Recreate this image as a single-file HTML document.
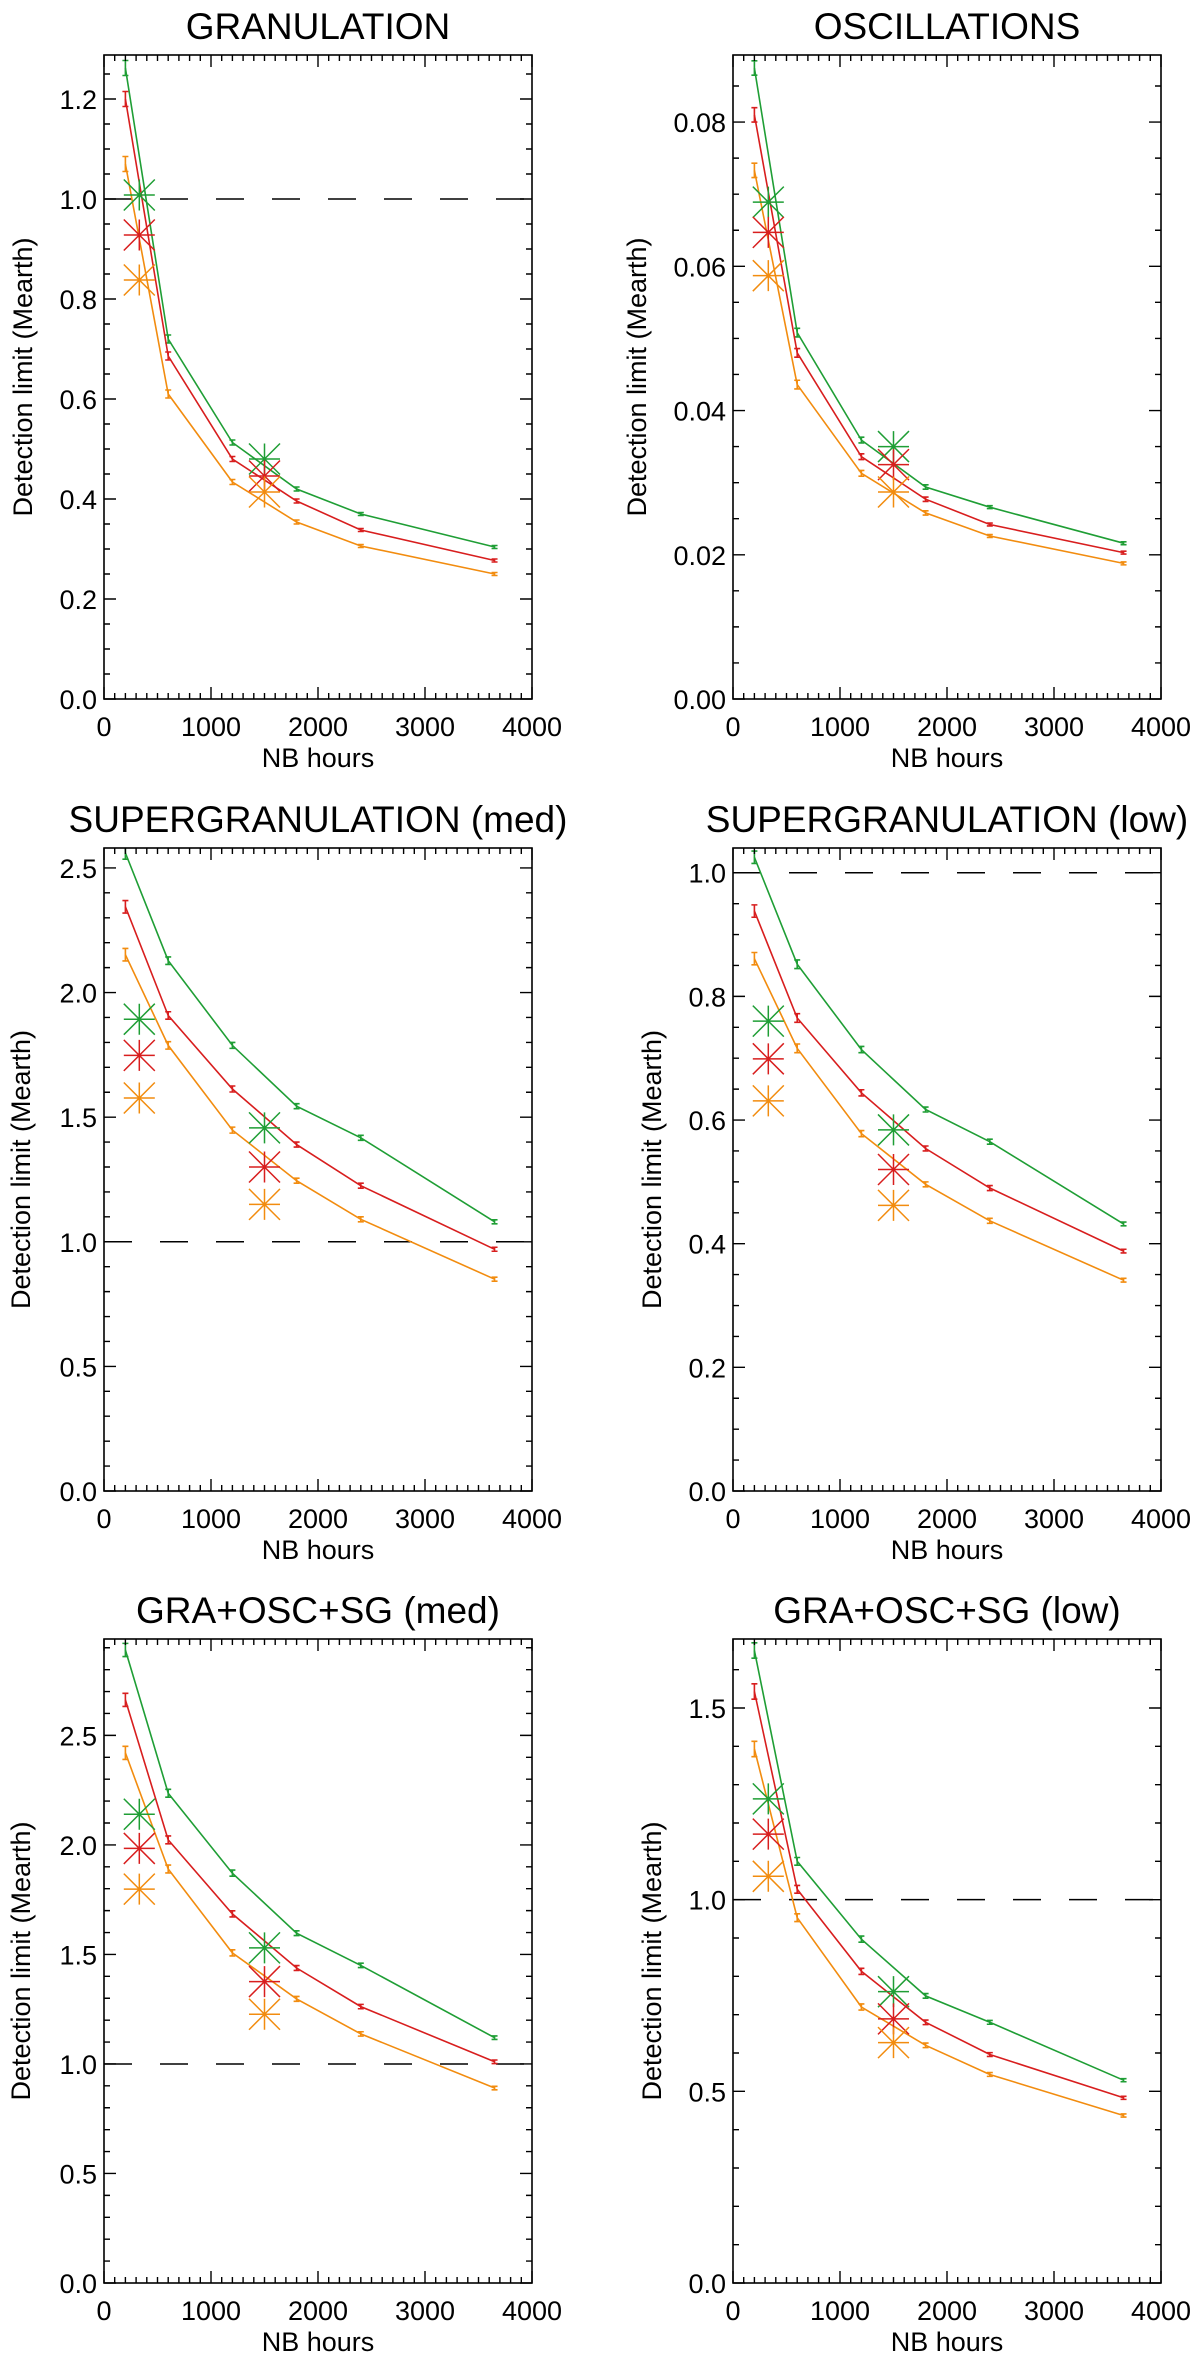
<!DOCTYPE html>
<html><head><meta charset="utf-8"><style>
html,body{margin:0;padding:0;background:#fff;}
svg{display:block;font-family:"Liberation Sans",Arial,sans-serif;}
</style></head><body>
<svg id="fig" width="1200" height="2365" viewBox="0 0 1200 2365" xmlns="http://www.w3.org/2000/svg"></svg>
<script>
// shared data
const hours = [200, 600, 1200, 1800, 2400, 3650];
const starHours = [330, 1500];
const xTicks = [0, 1000, 2000, 3000, 4000];
const xTickLabels = ["0", "1000", "2000", "3000", "4000"];

// GRANULATION
const granGreen = [1.262, 0.72, 0.513, 0.42, 0.37, 0.304];
const granRed = [1.20, 0.686, 0.48, 0.396, 0.338, 0.277];
const granOrange = [1.07, 0.61, 0.434, 0.354, 0.306, 0.25];
const granStarsGreen = [1.008, 0.48];
const granStarsRed = [0.928, 0.446];
const granStarsOrange = [0.838, 0.414];
const granErr = [0.015, 0.008, 0.005, 0.004, 0.003, 0.003];
const granYTicks = [0, 0.2, 0.4, 0.6, 0.8, 1.0, 1.2];
const granYLabels = ["0.0", "0.2", "0.4", "0.6", "0.8", "1.0", "1.2"];

// OSCILLATIONS
const oscGreen = [0.0875, 0.0508, 0.0359, 0.0294, 0.0266, 0.0216];
const oscRed = [0.081, 0.048, 0.0336, 0.0277, 0.0242, 0.0203];
const oscOrange = [0.0733, 0.0436, 0.0313, 0.0258, 0.0226, 0.0188];
const oscStarsGreen = [0.0689, 0.035];
const oscStarsRed = [0.0647, 0.0325];
const oscStarsOrange = [0.0587, 0.0287];
const oscErr = [0.001, 0.0006, 0.0004, 0.0003, 0.0002, 0.0002];
const oscYTicks = [0, 0.02, 0.04, 0.06, 0.08];
const oscYLabels = ["0.00", "0.02", "0.04", "0.06", "0.08"];

// SUPERGRANULATION (med)
const sgmGreen = [2.56, 2.128, 1.788, 1.544, 1.417, 1.08];
const sgmRed = [2.344, 1.908, 1.613, 1.39, 1.225, 0.97];
const sgmOrange = [2.152, 1.788, 1.448, 1.245, 1.09, 0.85];
const sgmStarsGreen = [1.893, 1.457];
const sgmStarsRed = [1.748, 1.30];
const sgmStarsOrange = [1.577, 1.15];
const sgmErr = [0.025, 0.015, 0.012, 0.01, 0.01, 0.008];
const sgYTicks = [0, 0.5, 1.0, 1.5, 2.0, 2.5];
const sgYLabels = ["0.0", "0.5", "1.0", "1.5", "2.0", "2.5"];

// SUPERGRANULATION (low)
const sglGreen = [1.025, 0.852, 0.714, 0.617, 0.565, 0.432];
const sglRed = [0.938, 0.765, 0.644, 0.554, 0.49, 0.388];
const sglOrange = [0.861, 0.716, 0.578, 0.496, 0.437, 0.341];
const sglStarsGreen = [0.76, 0.584];
const sglStarsRed = [0.699, 0.52];
const sglStarsOrange = [0.631, 0.462];
const sglErr = [0.01, 0.007, 0.005, 0.004, 0.004, 0.003];
const sglYTicks = [0, 0.2, 0.4, 0.6, 0.8, 1.0];
const sglYLabels = ["0.0", "0.2", "0.4", "0.6", "0.8", "1.0"];

// GRA+OSC+SG (med)
const allmGreen = [2.89, 2.236, 1.871, 1.597, 1.45, 1.12];
const allmRed = [2.662, 2.023, 1.685, 1.438, 1.262, 1.01];
const allmOrange = [2.42, 1.89, 1.507, 1.297, 1.137, 0.89];
const allmStarsGreen = [2.14, 1.53];
const allmStarsRed = [1.984, 1.376];
const allmStarsOrange = [1.798, 1.227];
const allmErr = [0.03, 0.018, 0.014, 0.011, 0.01, 0.008];

// GRA+OSC+SG (low)
const alllGreen = [1.65, 1.10, 0.897, 0.749, 0.68, 0.529];
const alllRed = [1.543, 1.027, 0.813, 0.68, 0.596, 0.483];
const alllOrange = [1.393, 0.953, 0.72, 0.62, 0.544, 0.437];
const alllStarsGreen = [1.263, 0.76];
const alllStarsRed = [1.171, 0.689];
const alllStarsOrange = [1.061, 0.627];
const alllErr = [0.02, 0.01, 0.008, 0.006, 0.005, 0.004];
const alllYTicks = [0, 0.5, 1.0, 1.5];
const alllYLabels = ["0.0", "0.5", "1.0", "1.5"];

const NS = "http://www.w3.org/2000/svg";
const svg = document.getElementById("fig");
const GREEN = "#1f9e35", RED = "#d81e1e", ORANGE = "#f28c0f";

function mk(tag, attrs, parent) {
  const e = document.createElementNS(NS, tag);
  for (const k in attrs) e.setAttribute(k, attrs[k]);
  parent.appendChild(e);
  return e;
}

const panels = [
  {name:"granulation", title:"GRANULATION", L:104, T:55, H:644, ymax:1.288, yt:granYTicks, yl:granYLabels, minor:0.05,
   s:[granGreen,granRed,granOrange], st:[granStarsGreen,granStarsRed,granStarsOrange], err:granErr, dash:true, ylx:23},
  {name:"oscillations", title:"OSCILLATIONS", L:733, T:55, H:644, ymax:0.0893, yt:oscYTicks, yl:oscYLabels, minor:0.005,
   s:[oscGreen,oscRed,oscOrange], st:[oscStarsGreen,oscStarsRed,oscStarsOrange], err:oscErr, dash:false, ylx:637},
  {name:"supergranulation-med", title:"SUPERGRANULATION (med)", L:104, T:848, H:643, ymax:2.58, yt:sgYTicks, yl:sgYLabels, minor:0.1,
   s:[sgmGreen,sgmRed,sgmOrange], st:[sgmStarsGreen,sgmStarsRed,sgmStarsOrange], err:sgmErr, dash:true, ylx:21},
  {name:"supergranulation-low", title:"SUPERGRANULATION (low)", L:733, T:848, H:643, ymax:1.04, yt:sglYTicks, yl:sglYLabels, minor:0.05,
   s:[sglGreen,sglRed,sglOrange], st:[sglStarsGreen,sglStarsRed,sglStarsOrange], err:sglErr, dash:true, ylx:652},
  {name:"all-med", title:"GRA+OSC+SG (med)", L:104, T:1639, H:644, ymax:2.94, yt:sgYTicks, yl:sgYLabels, minor:0.1,
   s:[allmGreen,allmRed,allmOrange], st:[allmStarsGreen,allmStarsRed,allmStarsOrange], err:allmErr, dash:true, ylx:21},
  {name:"all-low", title:"GRA+OSC+SG (low)", L:733, T:1639, H:644, ymax:1.68, yt:alllYTicks, yl:alllYLabels, minor:0.1,
   s:[alllGreen,alllRed,alllOrange], st:[alllStarsGreen,alllStarsRed,alllStarsOrange], err:alllErr, dash:true, ylx:652}
];
const W = 428, XMAX = 4000;
const colors = [GREEN, RED, ORANGE];
const cnames = ["green", "red", "orange"];

panels.forEach(p => {
  const g = mk("g", {}, svg);
  
  
  const B = p.T + p.H, R = p.L + W;
  const X = v => p.L + v / XMAX * W;
  const Y = v => B - v / p.ymax * p.H;

  const t = mk("text", {x: p.L + W/2, y: p.T - 16, "text-anchor":"middle", "font-size":37, fill:"#000"}, g);
  t.textContent = p.title;
  
  

  const cid = "clip-" + p.name;
  const cp = mk("clipPath", {id: cid}, g);
  mk("rect", {x:p.L, y:p.T, width:W, height:p.H}, cp);
  const plot = mk("g", {"clip-path":"url(#"+cid+")"}, g);

  if (p.dash) {
    const d = mk("line", {x1:p.L, x2:R, y1:Y(1), y2:Y(1), stroke:"#000", "stroke-width":1.5, "stroke-dasharray":"28 28"}, plot);
    
    
  }

  p.s.forEach((vals, si) => {
    const pts = vals.map((v, i) => X(hours[i]).toFixed(1) + "," + Y(v).toFixed(1)).join(" ");
    const pl = mk("polyline", {points: pts, fill:"none", stroke: colors[si], "stroke-width":1.6}, plot);
    
    
    vals.forEach((v, i) => {
      const x = X(hours[i]), y1 = Y(v + p.err[i]), y2 = Y(v - p.err[i]);
      const eb = mk("path", {d:`M${x-3},${y1}H${x+3}M${x},${y1}V${y2}M${x-3},${y2}H${x+3}`, stroke: colors[si], "stroke-width":1.6, fill:"none"}, plot);
      
      
    });
  });
  p.st.forEach((vals, si) => {
    vals.forEach((v, i) => {
      const x = X(starHours[i]), y = Y(v), r = 15.5;
      const s = mk("path", {d:`M${x-r},${y}H${x+r}M${x},${y-r}V${y+r}M${x-r},${y-r}L${x+r},${y+r}M${x-r},${y+r}L${x+r},${y-r}`, stroke: colors[si], "stroke-width":1.5, fill:"none"}, plot);
      
      
    });
  });

  let td = "";
  for (let v = 0; v <= XMAX + 1; v += 100) {
    const x = X(v), len = (v % 1000 === 0) ? 12 : 6;
    td += `M${x},${B}V${B-len}M${x},${p.T}V${p.T+len}`;
  }
  const nMinor = Math.floor(p.ymax / p.minor + 1e-6);
  const ratio = Math.round((p.yt[1] - p.yt[0]) / p.minor);
  for (let k = 0; k <= nMinor; k++) {
    const y = Y(k * p.minor);
    if (y < p.T - 0.5) continue;
    const len = (k % ratio === 0) ? 12 : 6;
    td += `M${p.L},${y}H${p.L+len}M${R},${y}H${R-len}`;
  }
  const tk = mk("path", {d: td, stroke:"#000", "stroke-width":1.4, fill:"none"}, g);
  
  

  const fr = mk("rect", {x:p.L, y:p.T, width:W, height:p.H, fill:"none", stroke:"#000", "stroke-width":1.6}, g);
  
  

  p.yt.forEach((v, i) => {
    const tl = mk("text", {x: p.L - 7, y: Y(v) + 10, "text-anchor":"end", "font-size":27, fill:"#000"}, g);
    tl.textContent = p.yl[i];
    
    
  });
  xTicks.forEach((v, i) => {
    const tl = mk("text", {x: X(v), y: B + 37, "text-anchor":"middle", "font-size":27, fill:"#000"}, g);
    tl.textContent = xTickLabels[i];
    
    
  });
  const xt = mk("text", {x: p.L + W/2, y: B + 68, "text-anchor":"middle", "font-size":27, fill:"#000"}, g);
  xt.textContent = "NB hours";
  
  
  const cy = p.T + p.H/2;
  const yt = mk("text", {x: p.ylx, y: cy, "text-anchor":"middle", "font-size":27, fill:"#000", "dominant-baseline":"central", transform:`rotate(-90 ${p.ylx} ${cy})`}, g);
  yt.textContent = "Detection limit (Mearth)";
  
  
});
</script>
</body></html>
